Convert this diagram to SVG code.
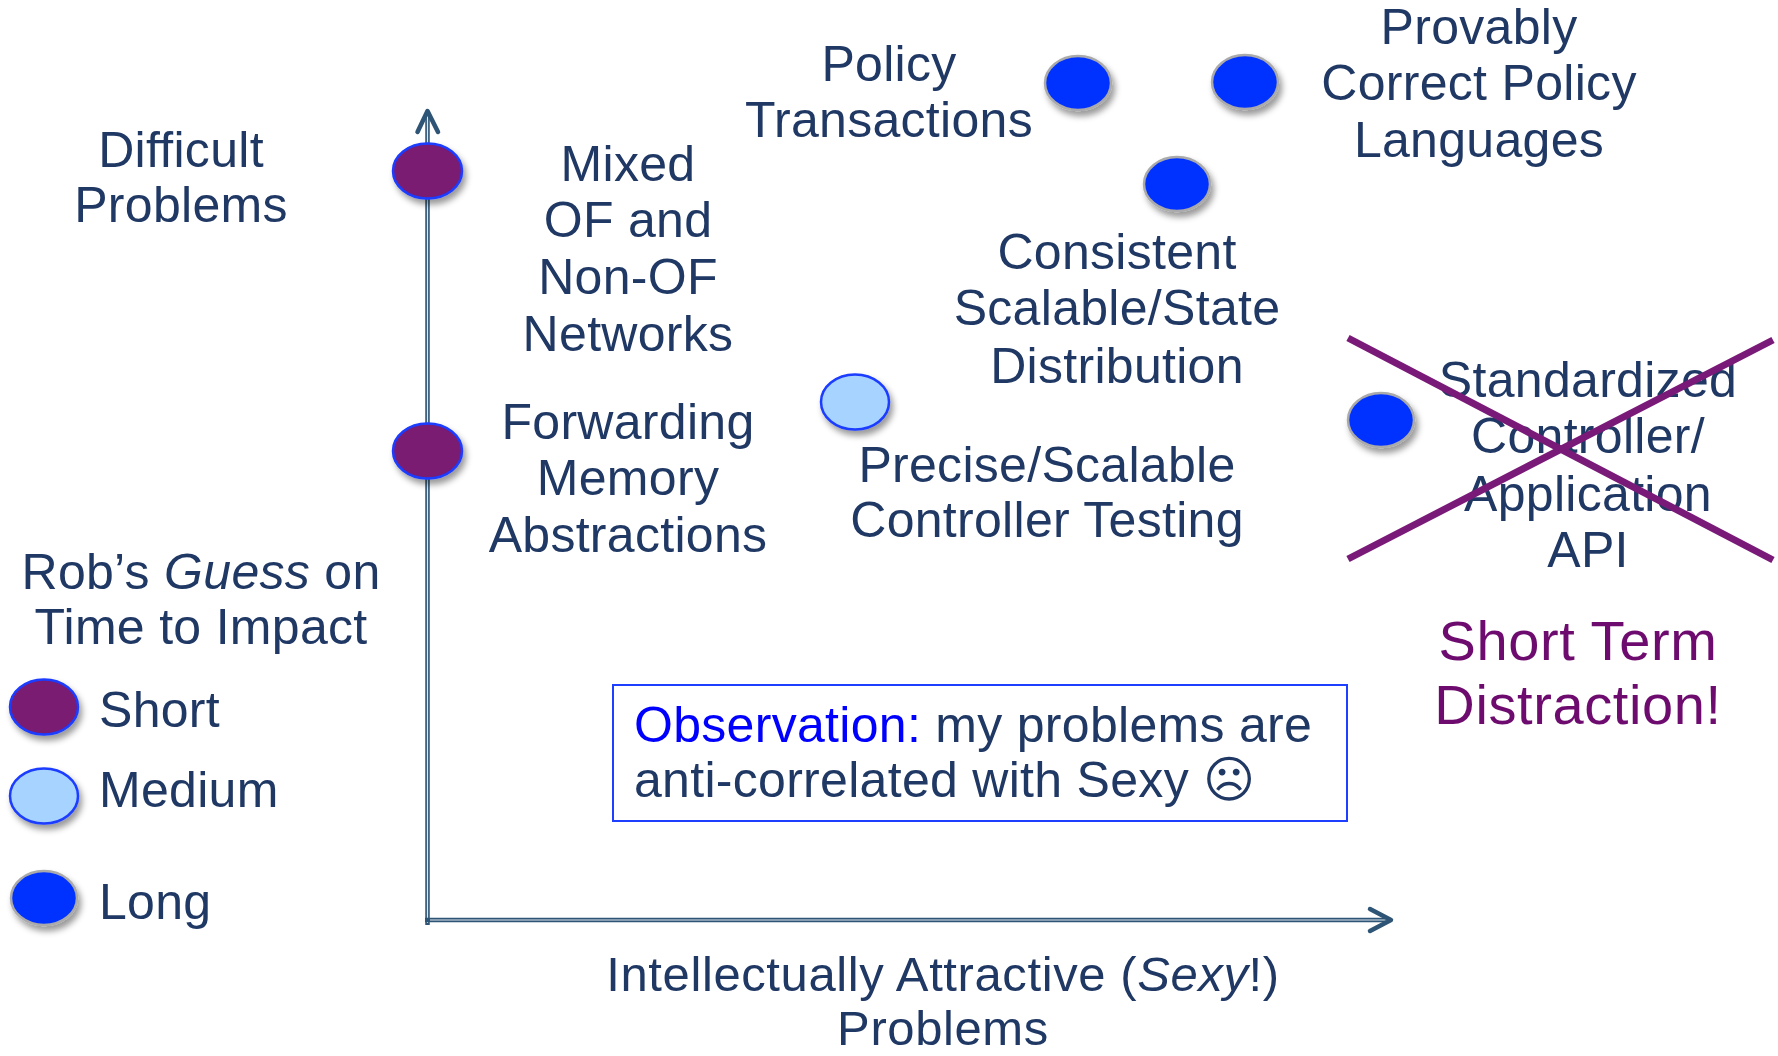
<svg xmlns="http://www.w3.org/2000/svg" width="1778" height="1056" viewBox="0 0 1778 1056">
<defs>
<style>
text{font-family:"Liberation Sans",Arial,sans-serif;font-size:50px;fill:#203864;letter-spacing:0.3px}
.c{text-anchor:middle}
.obs{fill:#0000ff}
.st{fill:#6e0b6e;font-size:56px;letter-spacing:0.6px}
.xl{font-size:49px;letter-spacing:0.6px}
.dot{filter:url(#sh)}
.short{fill:#7a1a72;stroke:#1a3cff;stroke-width:2.5}
.med{fill:#a6d3ff;stroke:#1a3cff;stroke-width:2.5}
.long{fill:#0433ff;stroke:#aaaaaa;stroke-width:2.5}
.ax{stroke:#2e5575;stroke-width:4.5;fill:none}
.axi{stroke:#dfe6ee;stroke-width:1.2;fill:none}
.ah{stroke:#2e5575;stroke-width:4.5;fill:none;stroke-linecap:round;stroke-linejoin:round}
.x{stroke:#7a1a78;stroke-width:7}
</style>
<filter id="sh" x="-40%" y="-40%" width="190%" height="200%">
<feDropShadow dx="3" dy="5" stdDeviation="3" flood-color="#000" flood-opacity="0.4"/>
</filter>
</defs>
<rect width="1778" height="1056" fill="#ffffff"/>

<g id="connectors">
<line class="ax" x1="427.5" y1="113" x2="427.5" y2="925"/>
<line class="axi" x1="427.5" y1="115" x2="427.5" y2="923"/>
<line class="ax" x1="425" y1="920" x2="1389" y2="920"/>
<line class="axi" x1="430" y1="920" x2="1387" y2="920"/>
<polyline class="ah" points="417.5,132 427.5,111 438,132"/>
<polyline class="ah" points="1370,909 1391,920 1370,931"/>
</g>

<g id="y-label"><text class="c" x="181" y="167" letter-spacing="1.5">Difficult</text><text class="c" x="181" y="222">Problems</text></g>
<g id="x-label"><text class="c xl" x="943" y="991">Intellectually Attractive (<tspan font-style="italic">Sexy</tspan>!)</text><text class="c xl" x="943" y="1045">Problems</text></g>

<g id="mixed">
<ellipse class="dot short" cx="427.5" cy="171" rx="34.5" ry="27.5"/>
<text class="c" x="628" y="181">Mixed</text><text class="c" x="628" y="237">OF and</text><text class="c" x="628" y="294">Non-OF</text><text class="c" x="628" y="351">Networks</text>
</g>
<g id="forwarding">
<ellipse class="dot short" cx="427.5" cy="451" rx="34.5" ry="27.5"/>
<text class="c" x="628" y="439">Forwarding</text><text class="c" x="628" y="495">Memory</text><text class="c" x="628" y="552">Abstractions</text>
</g>
<g id="testing">
<ellipse class="dot med" cx="855" cy="402" rx="34" ry="27.5"/>
<text class="c" x="1047" y="482">Precise/Scalable</text><text class="c" x="1047" y="537">Controller Testing</text>
</g>
<g id="transactions">
<ellipse class="dot long" cx="1078" cy="83" rx="33" ry="27"/>
<text class="c" x="889" y="81">Policy</text><text class="c" x="889" y="137">Transactions</text>
</g>
<g id="languages">
<ellipse class="dot long" cx="1245" cy="82" rx="33" ry="27"/>
<text class="c" x="1479" y="44">Provably</text><text class="c" x="1479" y="100">Correct Policy</text><text class="c" x="1479" y="157">Languages</text>
</g>
<g id="consistent">
<ellipse class="dot long" cx="1177" cy="184" rx="33" ry="27"/>
<text class="c" x="1117" y="269">Consistent</text><text class="c" x="1117" y="325">Scalable/State</text><text class="c" x="1117" y="383">Distribution</text>
</g>
<g id="api">
<ellipse class="dot long" cx="1381" cy="420" rx="33" ry="27"/>
<text class="c" x="1588" y="397">Standardized</text><text class="c" x="1588" y="453">Controller/</text><text class="c" x="1588" y="511">Application</text><text class="c" x="1588" y="567">API</text>
<line class="x" x1="1348" y1="338" x2="1773" y2="560"/>
<line class="x" x1="1773" y1="340" x2="1348" y2="559"/>
</g>
<g id="distraction"><text class="c st" x="1578" y="660">Short Term</text><text class="c st" x="1578" y="724">Distraction!</text></g>

<g id="observation">
<rect x="613" y="685" width="734" height="136" fill="none" stroke="#1f3fff" stroke-width="2"/>
<text x="634" y="742"><tspan class="obs">Observation:</tspan> my problems are</text>
<text x="634" y="797">anti-correlated with Sexy ☹</text>
</g>

<g id="legend">
<text class="c" x="201" y="589" letter-spacing="0">Rob’s <tspan font-style="italic">Guess</tspan> on</text>
<text class="c" x="201" y="644">Time to Impact</text>
<ellipse class="dot short" cx="44" cy="707" rx="34" ry="27.5"/>
<text x="99" y="727">Short</text>
<ellipse class="dot med" cx="44" cy="796" rx="34" ry="27.5"/>
<text x="99" y="807">Medium</text>
<ellipse class="dot long" cx="44" cy="898" rx="33" ry="27"/>
<text x="99" y="919">Long</text>
</g>
</svg>
